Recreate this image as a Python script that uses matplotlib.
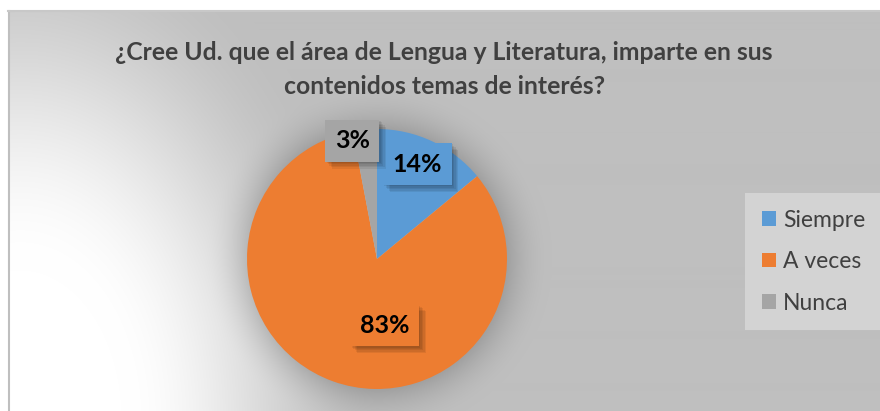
import numpy as np
import matplotlib
matplotlib.use("Agg")
import matplotlib.pyplot as plt
import matplotlib.patheffects as pe

# ---- data ----
categories = ["Siempre", "A veces", "Nunca"]
values = [14, 83, 3]
pct_labels = ["14%", "83%", "3%"]
colors = ["#5B9BD5", "#ED7D31", "#A5A5A5"]
title_lines = ["¿Cree Ud. que el área de Lengua y Literatura, imparte en sus",
               "contenidos temas de interés?"]

W, H = 880, 411
fig = plt.figure(figsize=(W / 100, H / 100), dpi=100)
fig.patch.set_facecolor("white")

# ---- background gradient (chart area) ----
bg = fig.add_axes([0, 0, 1, 1], zorder=0)
bg.set_axis_off()
xx, yy = np.meshgrid(np.arange(W), np.arange(H))
dx = (xx - 20) / 340.0
dy = (yy - 420) / 500.0
d = np.sqrt(dx ** 2 + dy ** 2)
t = np.clip((d - 0.30) / 0.75, 0, 1)
t = t * t * (3 - 2 * t)
g = 255 - 64 * t
# pie shadow halo
cx, cy, R = 377, 259, 130
rd = np.sqrt((xx - cx) ** 2 + (yy - cy) ** 2)
sh = np.clip(1 - (rd - R) / 45.0, 0, 1) ** 2
g = g - 30 * sh * (rd > R - 2)
img = np.dstack([g, g, g]) / 255.0
img[:11, :, :] = 1.0
img[:, :8, :] = 1.0
bg.imshow(img, extent=[0, W, H, 0], aspect="auto", interpolation="bilinear")
bg.set_xlim(0, W)
bg.set_ylim(H, 0)
bg.plot([8.5, 8.5], [11, H], color="#BFBFBF", lw=1.5)
bg.plot([8, W], [11.5, 11.5], color="#C8C8C8", lw=1.5)

# ---- title ----
title_color = "#404040"
bg.text(444, 52, title_lines[0], ha="center", va="center", fontsize=17.8,
        fontweight="bold", color=title_color, family="Lato")
bg.text(445, 86, title_lines[1], ha="center", va="center", fontsize=17.8,
        fontweight="bold", color=title_color, family="Lato")

# ---- pie ----
ax = fig.add_axes([(cx - R) / W, (H - cy - R) / H, 2 * R / W, 2 * R / H], zorder=2)
ax.set_axis_off()
wedges, _ = ax.pie(values, colors=colors, startangle=90, counterclock=False,
                   radius=1.0, wedgeprops=dict(linewidth=0))
ax.set_xlim(-1, 1)
ax.set_ylim(-1, 1)
ax.set_aspect("equal")

shadow_fx = [pe.SimplePatchShadow(offset=(o, -o), shadow_rgbFace="black", alpha=0.07)
             for o in (1, 2, 3, 4, 5)] + [pe.Normal()]

label_pos = [(0.31, 0.73), (0.06, -0.51), (-0.19, 0.91)]
for lab, pos, col in zip(pct_labels, label_pos, colors):
    tx = ax.text(pos[0], pos[1], lab, ha="center", va="center", fontsize=18,
                 fontweight="bold", color="black", family="Lato", zorder=5,
                 bbox=dict(boxstyle="square,pad=0.38", fc=col, ec="none"))
    tx.get_bbox_patch().set_path_effects(shadow_fx)

# ---- legend ----
leg = fig.legend(wedges, categories, loc="upper left",
                 bbox_to_anchor=(745 / W, 1 - 193 / H), borderaxespad=0,
                 frameon=True, fancybox=False, prop=dict(family="Lato", size=16.5),
                 handlelength=0.62, handleheight=0.62, handletextpad=0.32,
                 labelspacing=0.9, borderpad=0.72)
leg.get_frame().set_facecolor("#D3D3D3")
leg.get_frame().set_edgecolor("none")
leg.get_frame().set_alpha(1)
for txt in leg.get_texts():
    txt.set_color("#404040")

fig.savefig("out.png", dpi=100)
